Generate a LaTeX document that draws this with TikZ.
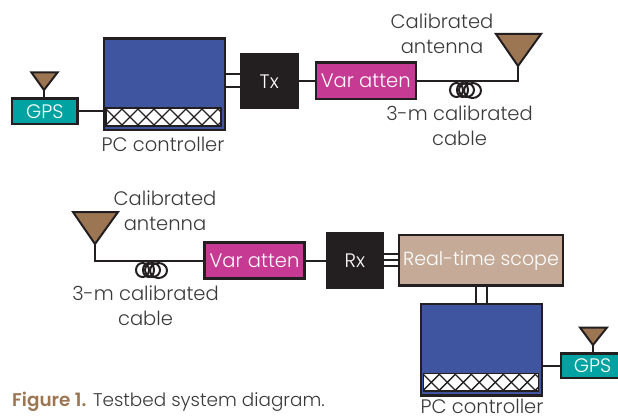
\documentclass[tikz,border=0pt]{standalone}
\usepackage{fontspec}
\setmainfont{Poppins Light}[BoldFont={Poppins SemiBold}]
\usetikzlibrary{calc}
\definecolor{txt}{HTML}{3A3A3C}
\definecolor{ink}{HTML}{231F20}
\definecolor{pcblue}{HTML}{3F55A0}
\definecolor{teal}{HTML}{00A3A1}
\definecolor{magenta2}{HTML}{C63A94}
\definecolor{tan2}{HTML}{C4AA97}
\definecolor{brown2}{HTML}{9C7653}
\tikzset{
  box/.style={draw=ink,line width=2.4pt,inner sep=0pt,anchor=north west,text=white,font=\fontsize{19.5}{19.5}\selectfont},
  gpsbox/.style={box,fill=teal},
  attenbox/.style={box,fill=magenta2},
  blackbox/.style={box,fill=ink},
  scopebox/.style={box,fill=tan2,font=\fontsize{19}{19}\selectfont},
  pcbox/.style={box,fill=pcblue},
  hatchbox/.style={box,fill=white,line width=1pt},
  wire/.style={draw=ink,line width=2pt},
  horn/.style={draw=ink,line width=2pt,fill=brown2,line join=miter},
  lab/.style={text=txt,font=\fontsize{19.5}{25}\selectfont,align=center,inner sep=0pt},
  coil/.style={draw=ink,line width=2pt,fill=none}
}
% name, style, outer left, top, right, bottom, text
\newcommand{\mybox}[7]{\node[#2,minimum width=#5pt-#3pt-2.4pt,minimum height=#6pt-#4pt-2.4pt] (#1) at (#3,#4) {#7};}
\newcommand{\hatching}[1]{%
  \begin{scope}
    \clip (#1.north west) rectangle (#1.south east);
    \foreach \k in {-2,...,10}{
      \draw[ink,line width=1.4pt] ($(#1.north west)+(\k*16,1)$) -- ++(34,34);
      \draw[ink,line width=1.4pt] ($(#1.north west)+(\k*16,1)$) -- ++(-34,34);
    }
  \end{scope}
  \draw[ink,line width=1.5pt] (#1.north west) rectangle (#1.south east);
}
\newcommand{\coilat}[2]{%
  \draw[coil] (#1,#2) ellipse [x radius=6.5pt,y radius=7pt];
  \draw[coil] (#1+6,#2) ellipse [x radius=5.5pt,y radius=7pt];
  \draw[coil] (#1+10,#2) ellipse [x radius=7.5pt,y radius=7pt];
  \draw[coil] (#1+16,#2+0.5) ellipse [x radius=8.5pt,y radius=7.5pt];
}
\begin{document}
\begin{tikzpicture}[x=1pt,y=-1pt]
\useasboundingbox (0,0) rectangle (618,417);
% ---- top chain
\mybox{pcA}{pcbox}{102.5}{37.5}{226}{131.5}{}
\mybox{hatchA}{hatchbox}{106}{108}{222.7}{127.3}{}
\hatching{hatchA}
\mybox{gpsA}{gpsbox}{11}{97.5}{78.5}{125}{GPS}
\mybox{tx}{blackbox}{240}{53}{298.5}{109.5}{Tx}
\mybox{attA}{attenbox}{314.5}{61.5}{417}{100}{Var atten}
\coordinate (hornAtip) at (518,66);
\coordinate (hornsA) at (44,90);
\coordinate (ya) at (0,74);
\coordinate (yb) at (0,86.7);
\draw[wire] (gpsA.east) -- (gpsA.east -| pcA.west);
\draw[wire] (pcA.east |- ya) -- (tx.west |- ya);
\draw[wire] (pcA.east |- yb) -- (tx.west |- yb);
\draw[wire] (tx.east |- attA.west) -- (attA.west);
\draw[wire,line join=miter] (attA.east) -- (attA.east -| hornAtip) -- (hornAtip);
\draw[wire] (hornsA) -- (hornsA |- gpsA.north);
\draw[horn] (hornAtip) -- (496,34) -- (541,34) -- cycle;
\draw[horn] (hornsA) -- (31.5,72.5) -- (57.5,72.5) -- cycle;
\coilat{456.5}{90}
\node[lab] (calA) at (442,33.5) {Calibrated\\antenna};
\node[lab] (cabA) at (459.5,125.5) {3-m calibrated\\cable};
\node[lab] (pcAl) at (163,144) {PC controller};
% ---- bottom chain
\mybox{pcB}{pcbox}{419.7}{302.7}{543.3}{396.7}{}
\mybox{hatchB}{hatchbox}{423.3}{373.3}{540}{392.7}{}
\hatching{hatchB}
\mybox{scope}{scopebox}{397.7}{234}{564.3}{286.7}{Real-time scope}
\mybox{rx}{blackbox}{325.7}{232.3}{384}{289}{Rx}
\mybox{attB}{attenbox}{203.3}{241.3}{305.7}{279.7}{Var atten}
\mybox{gpsB}{gpsbox}{560}{352.3}{625}{379.3}{GPS}
\coordinate (hornBtip) at (95,244);
\coordinate (hornsB) at (593,345);
\coordinate (l1) at (0,254.3);
\coordinate (l2) at (0,260);
\coordinate (l3) at (0,265.7);
\coordinate (v1) at (475.7,0);
\coordinate (v2) at (487.3,0);
\draw[wire] (attB.east) -- (attB.east -| rx.west);
\draw[wire] (rx.east |- l1) -- (scope.west |- l1);
\draw[wire] (rx.east |- l2) -- (scope.west |- l2);
\draw[wire] (rx.east |- l3) -- (scope.west |- l3);
\draw[wire] (scope.south -| v1) -- (pcB.north -| v1);
\draw[wire] (scope.south -| v2) -- (pcB.north -| v2);
\draw[wire] (gpsB.west) -- (gpsB.west -| pcB.east);
\draw[wire,line join=miter] (attB.west) -- (attB.west -| hornBtip) -- (hornBtip);
\draw[wire] (hornsB) -- (hornsB |- gpsB.north);
\draw[horn] (hornBtip) -- (73,212) -- (118,212) -- cycle;
\draw[horn] (hornsB) -- (580,327.5) -- (607,327.5) -- cycle;
\coilat{142.5}{270}
\node[lab] (calB) at (165,210.5) {Calibrated\\antenna};
\node[lab] (cabB) at (145.5,305.5) {3-m calibrated\\cable};
\node[lab] (pcBl) at (482,406) {PC controller};
\node[anchor=west,inner sep=0pt,text=txt,font=\fontsize{18.4}{20}\selectfont] (cap) at (12,402) {{\bfseries\color{brown2}Figure 1.} Testbed system diagram.};
\end{tikzpicture}
\end{document}
